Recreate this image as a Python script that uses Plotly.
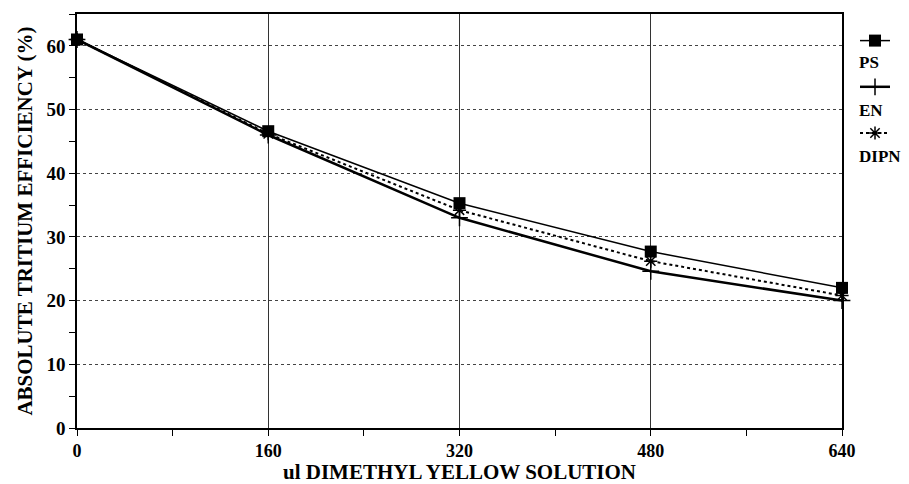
import plotly.graph_objects as go

x_vals = [0, 160, 320, 480, 640]
ps = [61.0, 46.6, 35.3, 27.7, 22.0]
en = [61.0, 46.0, 33.0, 24.6, 20.0]
dipn = [61.0, 46.2, 34.2, 26.2, 20.8]
series_names = ["PS", "EN", "DIPN"]
x_ticks = [0, 160, 320, 480, 640]
y_ticks = [0, 10, 20, 30, 40, 50, 60]

FONT = "Liberation Serif"
W, H = 909, 484
ML, MR, MT, MB = 77, 67, 14, 56
PW, PH = W - ML - MR, H - MT - MB

fig = go.Figure()
fig.add_trace(go.Scatter(
    x=x_vals, y=ps, mode="lines+markers", name="", cliponaxis=False,
    line=dict(color="black", width=1.5),
    marker=dict(symbol="square", size=12, color="black"),
    legendgroup="a"))
fig.add_trace(go.Scatter(
    x=x_vals, y=en, mode="lines+markers", name="", cliponaxis=False,
    line=dict(color="black", width=2.5),
    marker=dict(symbol="cross-thin", size=12, line=dict(color="black", width=1.5)),
    legendgroup="b"))
fig.add_trace(go.Scatter(
    x=x_vals, y=dipn, mode="lines+markers", name="", cliponaxis=False,
    line=dict(color="black", width=2, dash="dot"),
    marker=dict(symbol="asterisk-open", size=11, line=dict(color="black", width=1.5)),
    legendgroup="c"))

label_px_y = [63, 110, 156]
for name, py in zip(series_names, label_px_y):
    fig.add_annotation(
        x=(857 - ML) / PW, y=(H - MB - py) / PH, xref="paper", yref="paper",
        text=name, showarrow=False, xanchor="left", yanchor="middle",
        font=dict(family=FONT, size=17, color="black", weight="bold"))

fig.update_layout(
    width=W, height=H,
    margin=dict(l=ML, r=MR, t=MT, b=MB, autoexpand=False),
    paper_bgcolor="white", plot_bgcolor="white",
    showlegend=True,
    legend=dict(x=1.017, y=(H - MB - 25) / PH, xanchor="left", yanchor="top",
                tracegroupgap=25, itemwidth=30,
                font=dict(family=FONT, size=14, color="black"),
                bgcolor="rgba(0,0,0,0)"),
    xaxis=dict(
        range=[0, 640], tickvals=x_ticks, ticktext=[str(v) for v in x_ticks],
        showline=True, linecolor="black", linewidth=1.5, mirror=True,
        showgrid=True, gridcolor="#333", gridwidth=1,
        ticks="outside", ticklen=6, tickcolor="black",
        minor=dict(dtick=80, tick0=0, ticks="outside", ticklen=6, tickcolor="black", showgrid=False),
        tickfont=dict(family=FONT, size=18, color="black", weight="bold"),
        zeroline=False,
        title=dict(text="ul DIMETHYL YELLOW SOLUTION", standoff=0,
                   font=dict(family=FONT, size=21, color="black", weight="bold"))),
    yaxis=dict(
        range=[0, 65], tickvals=y_ticks, ticktext=[str(v) for v in y_ticks],
        showline=True, linecolor="black", linewidth=1.5, mirror=True,
        showgrid=True, gridcolor="#444", gridwidth=1, griddash="dot",
        ticks="outside", ticklen=6, tickcolor="black",
        minor=dict(dtick=5, tick0=0, ticks="outside", ticklen=6, tickcolor="black", showgrid=False),
        tickfont=dict(family=FONT, size=19, color="black", weight="bold"),
        zeroline=False,
        title=dict(text="ABSOLUTE TRITIUM EFFICIENCY (%)", standoff=8,
                   font=dict(family=FONT, size=21, color="black", weight="bold"))),
)

fig.write_html("out.html", config={"displayModeBar": False},
               post_script="document.body.style.margin='0';document.body.style.overflow='hidden';")
